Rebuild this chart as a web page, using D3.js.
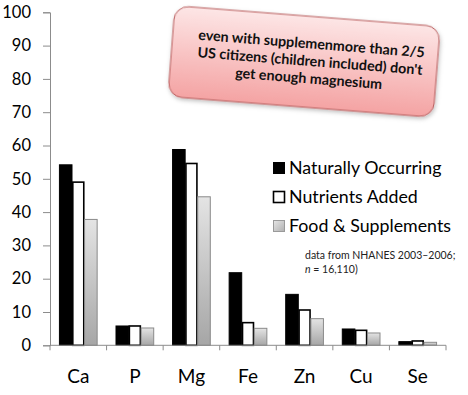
<!DOCTYPE html>
<html><head><meta charset="utf-8">
<script src="https://cdn.jsdelivr.net/npm/d3@7"></script>
<style>body{margin:0;background:#fff}svg{display:block}</style>
</head><body>
<script>
const categories = ["Ca","P","Mg","Fe","Zn","Cu","Se"];
const seriesNames = ["Naturally Occurring","Nutrients Added","Food & Supplements"];
const naturallyOccurring = [54.2, 5.8, 58.8, 21.8, 15.3, 4.9, 1.1];
const nutrientsAdded     = [49.0, 5.8, 54.6, 6.8, 10.6, 4.5, 1.3];
const foodSupplements    = [37.8, 5.2, 44.6, 5.1, 8.0, 3.7, 0.9];
const yTicks = [0,10,20,30,40,50,60,70,80,90,100];
const calloutLines = ["even with supplemenmore than 2/5","US citizens (children included) don't","get enough magnesium"];

(function(){
const W = 468, H = 395;
const FONT = "Lato, 'Open Sans', sans-serif";
const svg = d3.select("body").append("svg").attr("width", W).attr("height", H);
const defs = svg.append("defs");
const gg = defs.append("linearGradient").attr("id","greyGrad").attr("x1",0).attr("y1",0).attr("x2",0).attr("y2",1);
gg.append("stop").attr("offset","0%").attr("stop-color","#e4e4e4");
gg.append("stop").attr("offset","100%").attr("stop-color","#a6a6a6");
const lg = defs.append("linearGradient").attr("id","legGrad").attr("x1",0).attr("y1",0).attr("x2",1).attr("y2",1);
lg.append("stop").attr("offset","0%").attr("stop-color","#e6e6e6");
lg.append("stop").attr("offset","100%").attr("stop-color","#b0b0b0");
const pg = defs.append("linearGradient").attr("id","pinkGrad").attr("x1",0).attr("y1",0).attr("x2",0).attr("y2",1);
pg.append("stop").attr("offset","0%").attr("stop-color","#fde6e6");
pg.append("stop").attr("offset","100%").attr("stop-color","#f4a3a3");
const sh = defs.append("filter").attr("id","shadow").attr("x","-10%").attr("y","-10%").attr("width","130%").attr("height","140%");
sh.append("feDropShadow").attr("dx",1).attr("dy",2).attr("stdDeviation",2).attr("flood-color","#000").attr("flood-opacity",0.25);

const pLeft = 50, pRight = 446, pTop = 12.3, pBottom = 345.3;
const y = d3.scaleLinear().domain([0,100]).range([pBottom, pTop]);
const x0 = d3.scaleBand().domain(categories).range([pLeft, pRight]).paddingInner(1/3).paddingOuter(1/6);
const x1 = d3.scaleBand().domain(seriesNames).range([0, x0.bandwidth()]);
const xEdge = d3.scaleLinear().domain([0, categories.length]).range([pLeft, pRight]);

const seriesData = [naturallyOccurring, nutrientsAdded, foodSupplements];
const fills = ["#000000", "#ffffff", "url(#greyGrad)"];
const strokes = ["#000000", "#000000", "#8a8a8a"];
const strokeW = [1, 1.6, 1];

// y axis
const yAxis = d3.axisLeft(y).tickValues(yTicks).tickSize(7).tickPadding(12);
const ya = svg.append("g").attr("transform", `translate(${pLeft},0)`).call(yAxis);
ya.select(".domain").attr("stroke","#8c8c8c");
ya.selectAll(".tick line").attr("stroke","#8c8c8c");
ya.selectAll(".tick text").attr("font-family",FONT).attr("font-size",16.5).attr("fill","#000");

// bars
seriesNames.forEach((s, si) => {
  svg.append("g").selectAll("rect").data(categories).join("rect")
    .attr("x", c => x0(c) + x1(s) + (si===1?0.8:0))
    .attr("y", (c,i) => y(seriesData[si][i]))
    .attr("width", x1.bandwidth() - (si===1?1.6:0))
    .attr("height", (c,i) => y(0) - y(seriesData[si][i]))
    .attr("fill", fills[si]).attr("stroke", strokes[si]).attr("stroke-width", strokeW[si]);
});

// x axis
const xa = svg.append("g");
xa.append("line").attr("x1",pLeft).attr("x2",pRight).attr("y1",pBottom).attr("y2",pBottom).attr("stroke","#8c8c8c");
xa.selectAll("line.t").data(d3.range(categories.length+1)).join("line").attr("class","t")
  .attr("x1", d => xEdge(d)).attr("x2", d => xEdge(d)).attr("y1", pBottom).attr("y2", pBottom+5).attr("stroke","#8c8c8c");
xa.selectAll("text").data(categories).join("text")
  .attr("x", c => x0(c) + x0.bandwidth()/2).attr("y", 383)
  .attr("text-anchor","middle").attr("font-family",FONT).attr("font-size",19).attr("fill","#000").text(c => c);

// legend
const legY = [168, 197, 226];
const leg = svg.append("g");
seriesNames.forEach((s, i) => {
  leg.append("rect").attr("x", 273.5).attr("y", legY[i]-5.5).attr("width", 11).attr("height", 11)
    .attr("fill", i===2 ? "url(#legGrad)" : fills[i]).attr("stroke", i===2 ? "#9a9a9a" : "#000").attr("stroke-width", i===1?1.6:1);
  leg.append("text").attr("x", 289).attr("y", legY[i]).attr("dy","0.36em")
    .attr("font-family",FONT).attr("font-size",17.8).attr("fill","#000").text(s);
});

// note
const note = svg.append("g").attr("font-family",FONT).attr("font-size",10.5).attr("fill","#222");
note.append("text").attr("x",305).attr("y",259).text("data from NHANES 2003–2006;");
const n2 = note.append("text").attr("x",305).attr("y",273);
n2.append("tspan").attr("font-style","italic").text("n");
n2.append("tspan").text(" = 16,110)");

// callout
const co = svg.append("g").attr("transform","translate(304,62) rotate(4.5)");
co.append("rect").attr("x",-133).attr("y",-46).attr("width",266).attr("height",91).attr("rx",14)
  .attr("fill","url(#pinkGrad)").attr("stroke","#b85a5a").attr("stroke-width",1).attr("filter","url(#shadow)");
co.selectAll("text").data(calloutLines).join("text")
  .attr("x", 6).attr("y", (d,i) => -19 + i*17.5).attr("dy","0.35em").attr("text-anchor","middle")
  .attr("font-family",FONT).attr("font-weight","bold").attr("font-size",14.3).attr("fill","#111").text(d => d);
})();
</script>
</body></html>
